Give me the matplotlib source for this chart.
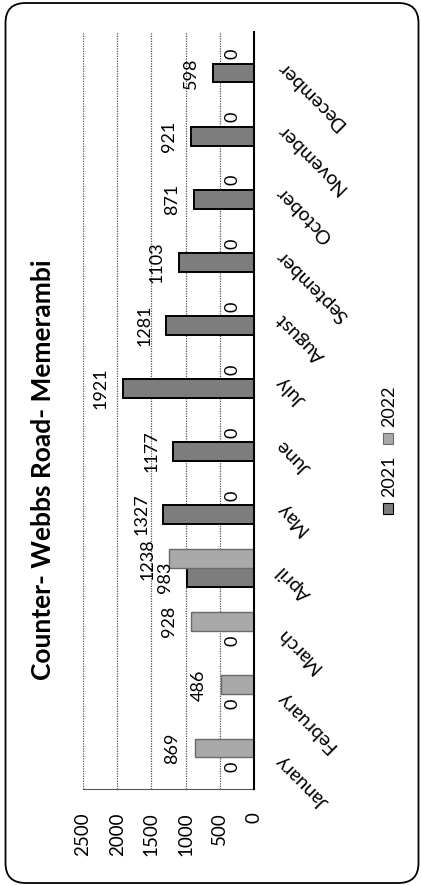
import numpy as np
import matplotlib
matplotlib.use("Agg")
import matplotlib.pyplot as plt
from matplotlib.patches import FancyBboxPatch, Rectangle

plt.rcParams['font.family'] = ['Lato', 'DejaVu Sans']

months = ['January', 'February', 'March', 'April', 'May', 'June',
          'July', 'August', 'September', 'October', 'November', 'December']
series = ['2021', '2022']
counts_2021 = [0, 0, 0, 983, 1327, 1177, 1921, 1281, 1103, 871, 921, 598]
counts_2022 = [869, 486, 928, 1238, 0, 0, 0, 0, 0, 0, 0, 0]
value_ticks = [0, 500, 1000, 1500, 2000, 2500]
title = 'Counter- Webbs Road- Memerambi'

face = ['#7d7d7d', '#a9a9a9']
edge = ['#000000', '#6a6a6a']

W, H = 421, 886
fig = plt.figure(figsize=(W / 100, H / 100), dpi=100)
ax = fig.add_axes([83 / W, 1 - 789 / H, (254 - 83) / W, (789 - 32) / H])

# page is turned on its side: months run bottom-to-top, values grow to the left
pos = np.arange(len(months))
bh = 0.3
for k, vals in enumerate([counts_2021, counts_2022]):
    yy = pos + (k - 0.5) * bh
    ax.barh(yy, vals, height=bh, color=face[k], edgecolor=edge[k],
            linewidth=1.4 if k == 0 else 1.0, zorder=3)
    for y, v in zip(yy, vals):
        ax.annotate(str(v), (v, y), xytext=(-22, 0), textcoords='offset pixels',
                    rotation=90, ha='center', va='center', fontsize=13,
                    zorder=4)

ax.set_xlim(2500, 0)
ax.set_ylim(-0.5, len(months) - 0.5)
ax.set_xticks(value_ticks)
ax.set_xticklabels([str(t) for t in value_ticks], rotation=90, fontsize=13.5)
ax.tick_params(axis='x', length=0, pad=17)

ax.yaxis.tick_right()
ax.set_yticks(pos)
ax.set_yticklabels(months, rotation=135, rotation_mode='anchor',
                   ha='right', va='center', fontsize=14)
ax.tick_params(axis='y', length=0, pad=18)

ax.grid(axis='x', linestyle=(0, (1, 1)), color='#555555', linewidth=0.9, zorder=0)
ax.spines['top'].set_visible(False)
ax.spines['left'].set_visible(False)
ax.spines['bottom'].set_linestyle((0, (1, 1)))
ax.spines['bottom'].set_color('#555555')
ax.spines['right'].set_color('black')
ax.spines['right'].set_linewidth(1.5)
ax.spines['right'].set_zorder(5)

fig.text(43 / W, 1 - 470 / H, title, rotation=90, ha='center', va='center',
         fontsize=19, fontweight='bold')

# legend drawn by hand so it can stand upright with the rest of the page
leg_y = [503, 433]
for k, name in enumerate(series):
    y0 = leg_y[k]
    fig.add_artist(Rectangle((383 / W, 1 - (y0 + 11) / H), 10 / W, 11 / H,
                             transform=fig.transFigure, facecolor=face[k],
                             edgecolor=edge[k], linewidth=0.8))
    fig.text(389 / W, 1 - (y0 - 6) / H, name, rotation=90, ha='center',
             va='bottom', fontsize=13)

fig.add_artist(FancyBboxPatch((0.055, 0.03), 4.13, 8.8,
                              boxstyle='round,pad=0,rounding_size=0.2',
                              transform=fig.dpi_scale_trans, facecolor='none',
                              edgecolor='black', linewidth=1.3))

fig.savefig('out.png', dpi=100)
